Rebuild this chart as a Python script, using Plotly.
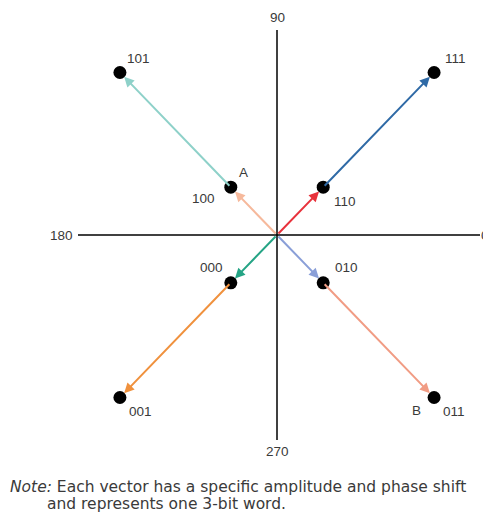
import plotly.graph_objects as go

# constellation points (3-bit words), inner amplitude 1, outer amplitude 3.4
words = ["000", "001", "010", "011", "100", "101", "110", "111"]
pt_x = [-1.0, -3.4, 1.0, 3.4, -1.0, -3.4, 1.0, 3.4]
pt_y = [-1.0, -3.4, -1.0, -3.4, 1.0, 3.4, 1.0, 3.4]

# vectors: (from word or origin, to word)
vectors = [
    (None, "110"), ("110", "111"),
    (None, "100"), ("100", "101"),
    (None, "000"), ("000", "001"),
    (None, "010"), ("010", "011"),
]
vector_colors = ["#e8323c", "#2f6aa6", "#f6b99c", "#8ed1c9",
                 "#25a485", "#f0913d", "#8a9fd8", "#f19c84"]

axis_labels = ["0", "90", "180", "270"]
extra_labels = {"A": "100", "B": "011"}

# pixel offsets for point labels
label_shift = {
    "101": (19, 14), "111": (21, 14), "110": (22, -14), "100": (-27, -11),
    "000": (-19, 15), "010": (23, 15), "001": (21, -14), "011": (20, -14),
    "A": (13, 15), "B": (-18, -13),
}

# page has an 8px body margin, so the figure is drawn 8px in from the window corner
PAD = 8
sx, sy = 46.2, 47.8
ox, oy = 277 - PAD, 235 - PAD
W, H = 491 - PAD, 520 - 2 * PAD
pos = dict(zip(words, zip(pt_x, pt_y)))
font = dict(family="Liberation Sans, Arial, sans-serif", size=13.5, color="#3a3a3a")

fig = go.Figure()

# axes
ax_l, ax_r = (78 - PAD - ox) / sx, (480 - PAD - ox) / sx
ax_t, ax_b = (oy - (30 - PAD)) / sy, (oy - (440 - PAD)) / sy
fig.add_shape(type="line", x0=ax_l, x1=ax_r, y0=0, y1=0, line=dict(color="black", width=1.5))
fig.add_shape(type="line", x0=0, x1=0, y0=ax_b, y1=ax_t, line=dict(color="black", width=1.5))

annotations = []
for (a, b), c in zip(vectors, vector_colors):
    x0, y0 = (0, 0) if a is None else pos[a]
    x1, y1 = pos[b]
    annotations.append(dict(x=x1, y=y1, ax=x0, ay=y0, xref="x", yref="y", axref="x", ayref="y",
                            showarrow=True, arrowhead=2, arrowsize=1, arrowwidth=2,
                            arrowcolor=c, standoff=6, text=""))

fig.add_trace(go.Scatter(x=pt_x, y=pt_y, mode="markers",
                         marker=dict(size=13, color="black"), hoverinfo="skip", showlegend=False))

for w in words:
    dx, dy = label_shift[w]
    annotations.append(dict(x=pos[w][0], y=pos[w][1], text=w, showarrow=False,
                            xshift=dx, yshift=dy, font=font))
for t, w in extra_labels.items():
    dx, dy = label_shift[t]
    annotations.append(dict(x=pos[w][0], y=pos[w][1], text=t, showarrow=False,
                            xshift=dx, yshift=dy, font=font))

# axis angle labels
annotations += [
    dict(x=1, y=0, xref="paper", text=axis_labels[0], showarrow=False,
         xanchor="right", yanchor="middle", font=font),
    dict(x=0, y=ax_t, text=axis_labels[1], showarrow=False, yanchor="bottom", yshift=3, font=font),
    dict(x=ax_l, y=0, text=axis_labels[2], showarrow=False, xanchor="right", xshift=-3, font=font),
    dict(x=0, y=ax_b, text=axis_labels[3], showarrow=False, yanchor="top", yshift=-2, font=font),
]

note_font = dict(family="DejaVu Sans, sans-serif", size=15.5, color="#3a3a3a")
annotations += [
    dict(x=0, y=1 - (487 - PAD) / H, xref="paper", yref="paper", xanchor="left", yanchor="middle",
         showarrow=False, font=note_font,
         text="<i>Note:</i> Each vector has a specific amplitude and phase shift"),
    dict(x=(45 - PAD) / W, y=1 - (504 - PAD) / H, xref="paper", yref="paper", xanchor="left",
         yanchor="middle", showarrow=False, font=note_font,
         text="and represents one 3-bit word."),
]

fig.update_layout(
    width=W, height=H,
    margin=dict(l=0, r=0, t=0, b=0),
    paper_bgcolor="white", plot_bgcolor="white",
    xaxis=dict(range=[-ox / sx, (W - ox) / sx], visible=False, fixedrange=True),
    yaxis=dict(range=[(oy - H) / sy, oy / sy], visible=False, fixedrange=True),
    annotations=annotations,
    showlegend=False,
)

fig.write_html("out.html")
